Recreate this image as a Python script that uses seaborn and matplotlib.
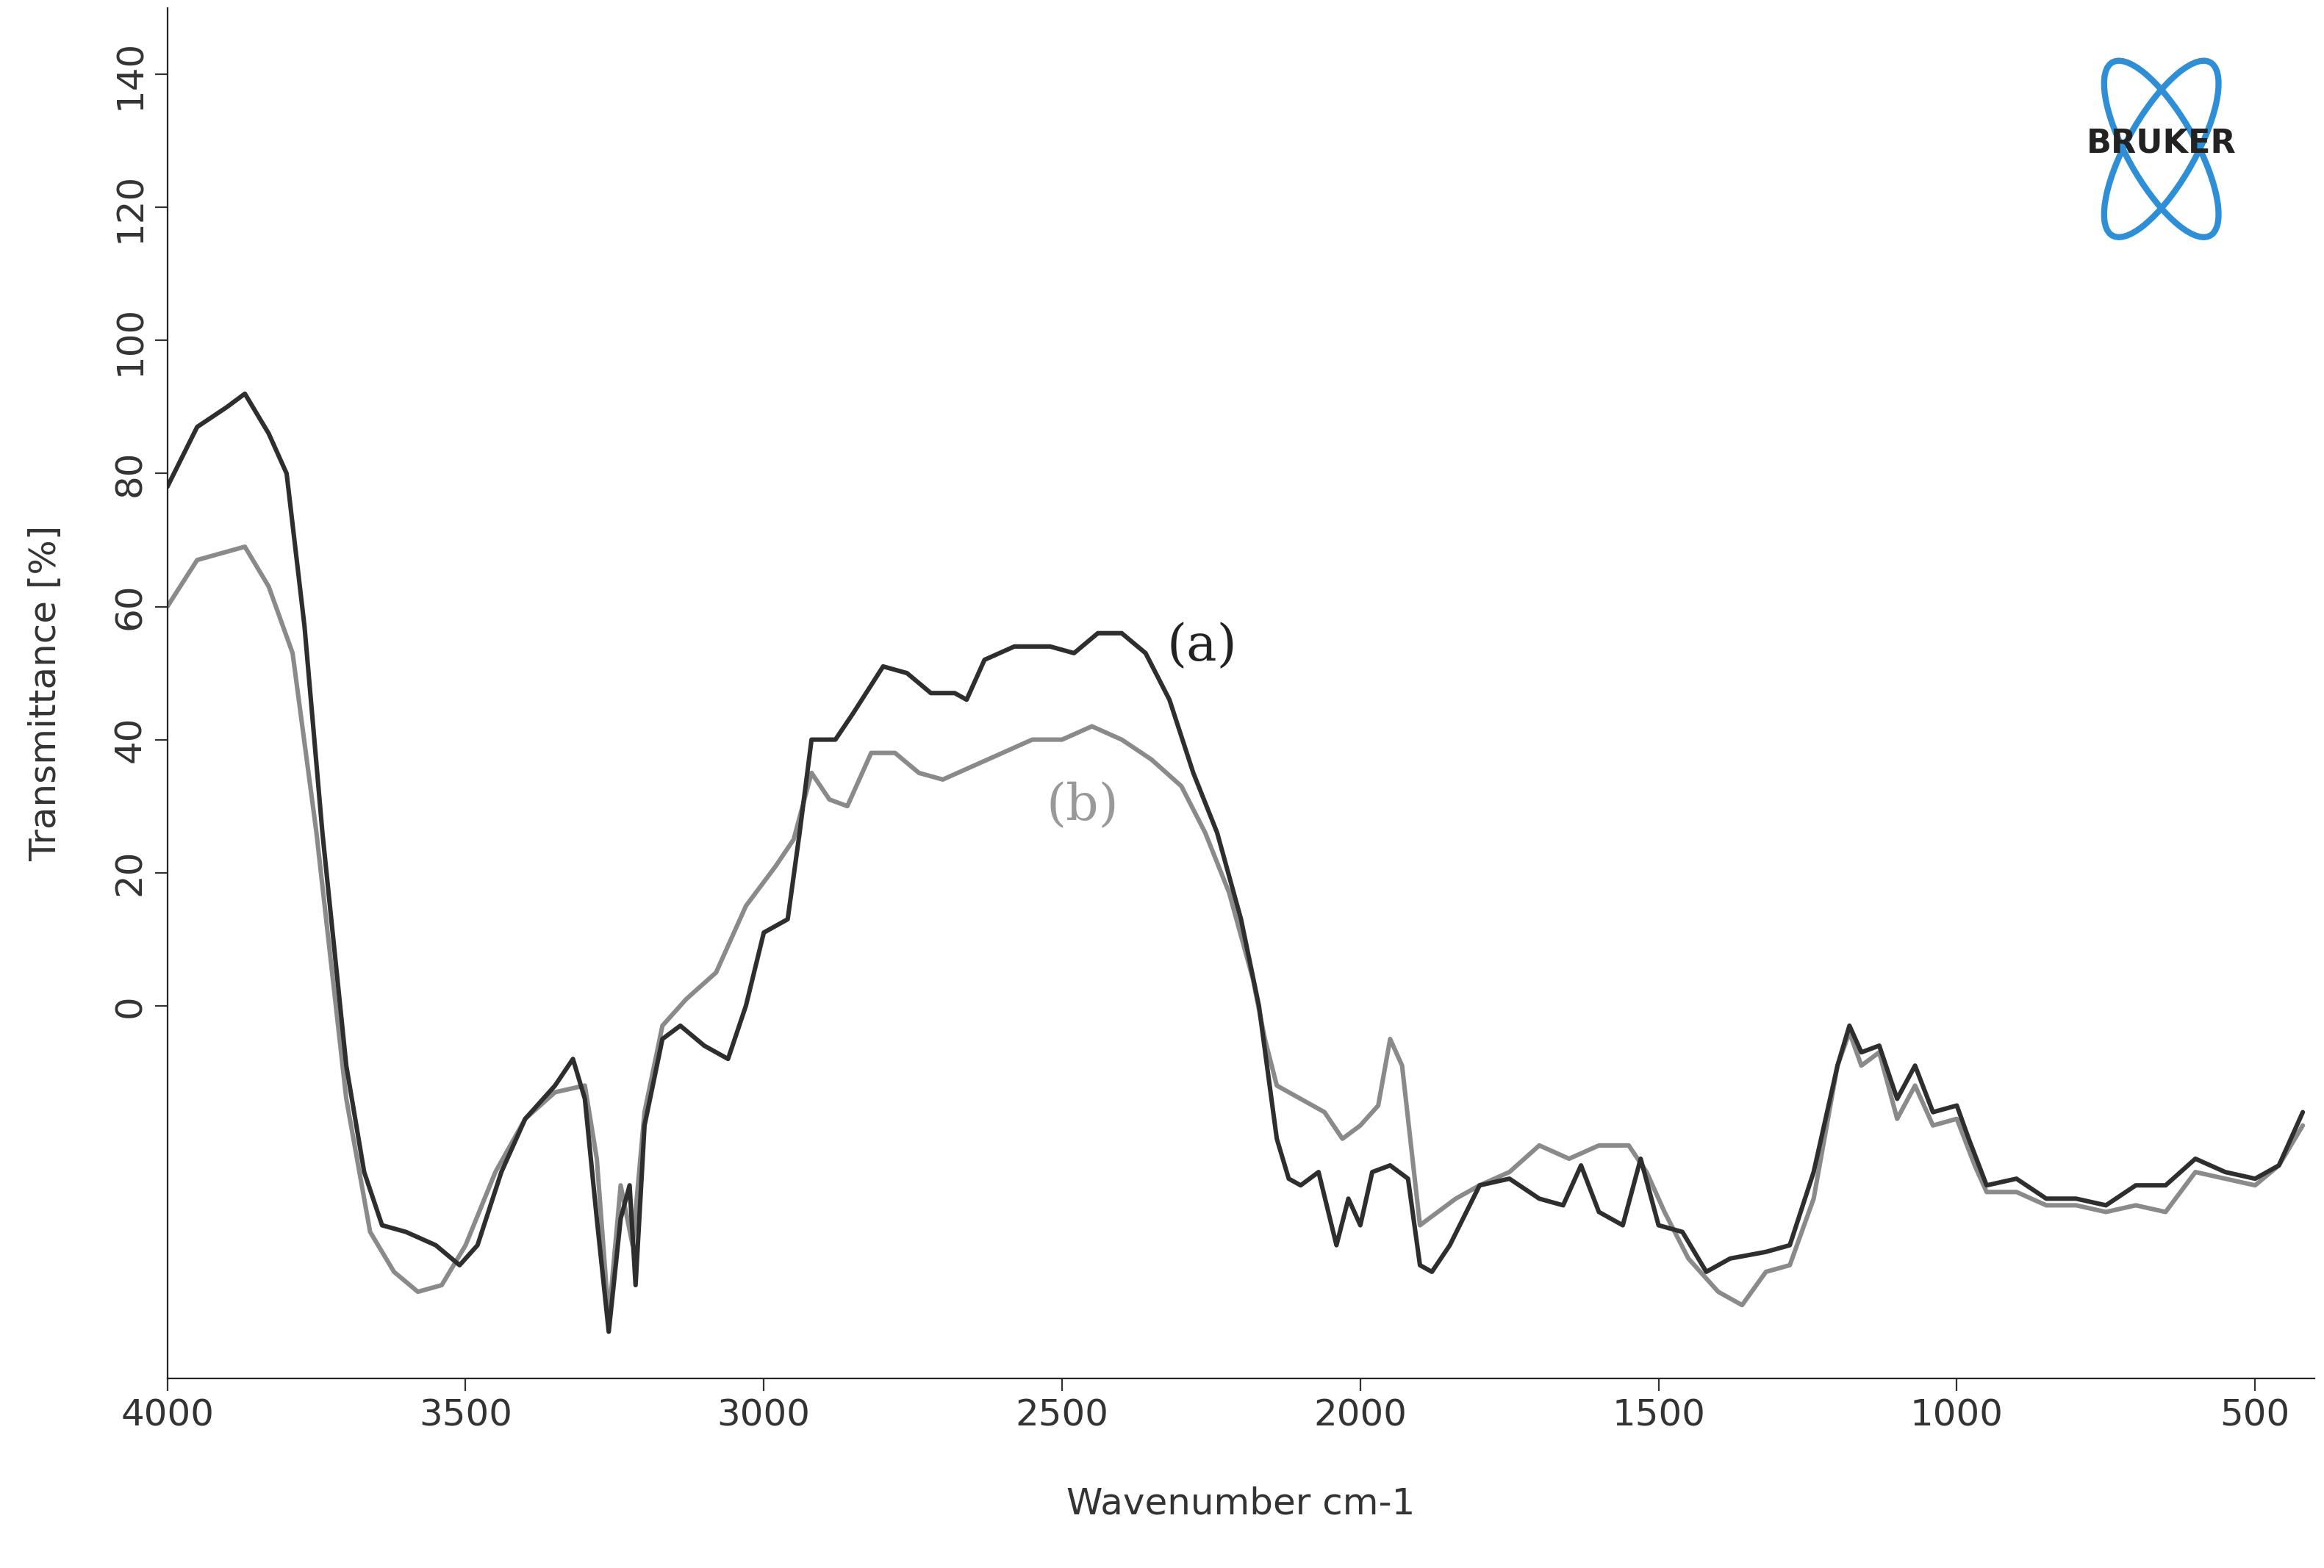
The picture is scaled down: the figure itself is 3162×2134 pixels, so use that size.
import numpy as np
import pandas as pd
import matplotlib
matplotlib.use("Agg")
import matplotlib.pyplot as plt
import seaborn as sns
from matplotlib.patches import Ellipse

# curve (a), dark
wn_a = [4000, 3950, 3900, 3870, 3830, 3800, 3770, 3740, 3700, 3670, 3640, 3600, 3550, 3510, 3480, 3440,
        3400, 3350, 3320, 3300, 3280, 3260, 3240, 3225, 3215, 3200, 3170, 3140, 3100, 3060, 3030, 3000,
        2960, 2940, 2920, 2880, 2850, 2800, 2760, 2720, 2680, 2660, 2630, 2580, 2520, 2480, 2440, 2400,
        2360, 2320, 2280, 2240, 2200, 2170, 2140, 2120, 2100, 2070, 2040, 2020, 2000, 1980, 1950, 1920,
        1900, 1880, 1850, 1800, 1750, 1700, 1660, 1630, 1600, 1560, 1530, 1500, 1460, 1420, 1380, 1320,
        1280, 1240, 1200, 1180, 1160, 1130, 1100, 1070, 1040, 1000, 980, 950, 900, 850, 800, 750, 700,
        650, 600, 550, 500, 460, 420]
tr_a = [78, 87, 90, 92, 86, 80, 57, 26, -9, -25, -33, -34, -36, -39, -36, -25,
        -17, -12, -8, -14, -32, -49, -32, -27, -42, -18, -5, -3, -6, -8, 0, 11,
        13, 26, 40, 40, 44, 51, 50, 47, 47, 46, 52, 54, 54, 53, 56, 56,
        53, 46, 35, 26, 13, 0, -20, -26, -27, -25, -36, -29, -33, -25, -24, -26,
        -39, -40, -36, -27, -26, -29, -30, -24, -31, -33, -23, -33, -34, -40, -38, -37,
        -36, -25, -9, -3, -7, -6, -14, -9, -16, -15, -20, -27, -26, -29, -29, -30, -27,
        -27, -23, -25, -26, -24, -16]

# curve (b), grey
wn_b = [4000, 3950, 3870, 3830, 3790, 3750, 3700, 3660, 3620, 3580, 3540, 3500, 3450, 3400, 3350, 3300,
        3280, 3260, 3240, 3220, 3200, 3170, 3130, 3080, 3030, 2980, 2950, 2920, 2890, 2860, 2820, 2780,
        2740, 2700, 2650, 2600, 2550, 2500, 2450, 2400, 2350, 2300, 2260, 2220, 2180, 2160, 2140, 2100,
        2060, 2030, 2000, 1970, 1950, 1930, 1900, 1870, 1840, 1800, 1750, 1700, 1650, 1600, 1550, 1520,
        1490, 1450, 1400, 1360, 1320, 1280, 1240, 1200, 1180, 1160, 1130, 1100, 1070, 1040, 1000, 970,
        950, 900, 850, 800, 750, 700, 650, 600, 550, 500, 460, 420]
tr_b = [60, 67, 69, 63, 53, 26, -14, -34, -40, -43, -42, -36, -25, -17, -13, -12,
        -23, -47, -27, -36, -16, -3, 1, 5, 15, 21, 25, 35, 31, 30, 38, 38,
        35, 34, 36, 38, 40, 40, 42, 40, 37, 33, 26, 17, 4, -5, -12, -14,
        -16, -20, -18, -15, -5, -9, -33, -31, -29, -27, -25, -21, -23, -21, -21, -25,
        -31, -38, -43, -45, -40, -39, -29, -9, -4, -9, -7, -17, -12, -18, -17, -24,
        -28, -28, -30, -30, -31, -30, -31, -25, -26, -27, -24, -18]

df_a = pd.DataFrame({"wn": wn_a, "t": tr_a})
df_b = pd.DataFrame({"wn": wn_b, "t": tr_b})

sns.set_style("ticks")
fig = plt.figure(figsize=(15.81, 10.67), dpi=200)
ax = fig.add_axes([0.072, 0.121, 0.924, 0.874])

sns.lineplot(data=df_b, x="wn", y="t", color="#8a8a8a", lw=2.2, ax=ax, sort=False)
sns.lineplot(data=df_a, x="wn", y="t", color="#2e2e2e", lw=2.2, ax=ax, sort=False)

ax.set_xlim(4000, 400)
ax.set_ylim(-56, 150)
ax.set_xticks([4000, 3500, 3000, 2500, 2000, 1500, 1000, 500])
ax.set_yticks([0, 20, 40, 60, 80, 100, 120, 140])
ax.tick_params(labelsize=18, colors="#333333", length=6)
for lab in ax.get_yticklabels():
    lab.set_rotation(90)
    lab.set_va("center")
ax.set_xlabel("Wavenumber cm-1", fontsize=18, color="#333333", labelpad=26)
ax.set_ylabel("Transmittance [%]", fontsize=18, color="#333333", labelpad=24)
for s in ["top", "right"]:
    ax.spines[s].set_visible(False)
ax.spines["left"].set_bounds(-56, 150)

ax.text(2265, 54, "(a)", fontsize=25, family="DejaVu Serif", color="#222222", ha="center", va="center")
ax.text(2466, 30, "(b)", fontsize=25, family="DejaVu Serif", color="#999999", ha="center", va="center")

# Bruker logo
lax = fig.add_axes([0.89, 0.835, 0.08, 0.14])
lax.set_xlim(-1, 1)
lax.set_ylim(-1, 1)
lax.axis("off")
for ang in (55, -55):
    lax.add_patch(Ellipse((0, 0), 1.9, 0.7, angle=ang, fill=False, ec="#2e8fd6", lw=3))
lax.text(0, 0.05, "BRUKER", fontsize=16, weight="bold", ha="center", va="center", color="#222222")

fig.savefig("out.png", dpi=200)
